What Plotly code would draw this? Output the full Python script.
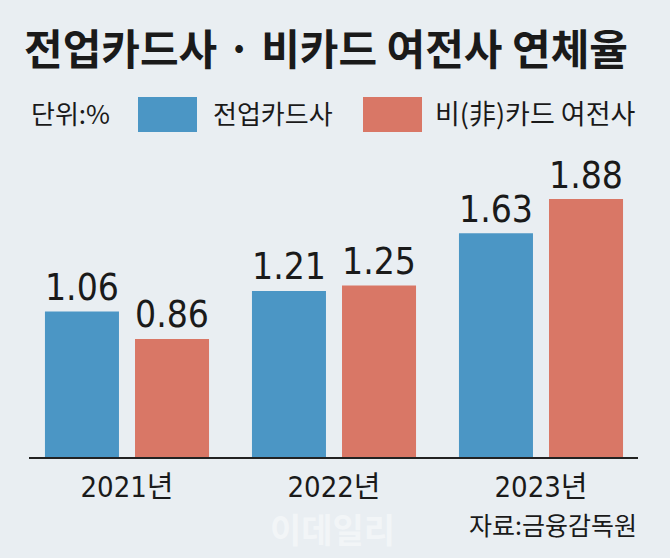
import plotly.graph_objects as go

years = ["2021년", "2022년", "2023년"]
card_only = [1.06, 1.21, 1.63]
non_card = [0.86, 1.25, 1.88]
series_names = ["전업카드사", "비(非)카드 여전사"]
title_text = "전업카드사 · 비카드 여전사 연체율"
unit_text = "단위:%"
source_text = "자료:금융감독원"
watermark = "이데일리"

BLUE = "#4b96c5"
RED = "#d97766"
BG = "#e9eef2"
KR = "Noto Sans CJK KR"
NUM = "Liberation Sans Narrow, DejaVu Sans Condensed, Roboto, " + KR

W, H = 670, 558
L, R, T, B = 29, 32, 170, 101
PW, PH = W - L - R, H - T - B


def xp(px):
    return (px - L) / PW


def yp(py):
    return (H - B - py) / PH


fig = go.Figure()
for vals, name, col in [(card_only, series_names[0], BLUE), (non_card, series_names[1], RED)]:
    fig.add_trace(go.Bar(
        x=years, y=vals, name=name, marker=dict(color=col, line=dict(width=0)),
        text=[f"{v:.2f}" for v in vals], textposition="outside",
        textfont=dict(family=NUM, size=39, color="#1a1a1a"),
        cliponaxis=False, showlegend=False,
    ))

ann = []
ann.append(dict(text=f"<b>{title_text}</b>", x=xp(22), y=yp(14), xref="paper", yref="paper",
                xanchor="left", yanchor="top", showarrow=False,
                font=dict(family=KR, size=42, color="#1a1a1a")))
ann.append(dict(text=unit_text, x=xp(29), y=yp(112), xref="paper", yref="paper",
                xanchor="left", yanchor="middle", showarrow=False,
                font=dict(family=KR, size=26, color="#1a1a1a")))
ann.append(dict(text=series_names[0], x=xp(211), y=yp(112), xref="paper", yref="paper",
                xanchor="left", yanchor="middle", showarrow=False,
                font=dict(family=KR, size=26, color="#1a1a1a")))
ann.append(dict(text=series_names[1], x=xp(433), y=yp(112), xref="paper", yref="paper",
                xanchor="left", yanchor="middle", showarrow=False,
                font=dict(family=KR, size=27, color="#1a1a1a")))
ann.append(dict(text=f"<b>{watermark}</b>", x=xp(332), y=yp(528), xref="paper", yref="paper",
                xanchor="center", yanchor="middle", showarrow=False,
                font=dict(family=KR, size=34, color="rgba(255,255,255,0.45)")))
ann.append(dict(text=source_text, x=xp(639), y=yp(524), xref="paper", yref="paper",
                xanchor="right", yanchor="middle", showarrow=False,
                font=dict(family=KR, size=25, color="#1a1a1a")))

shapes = [
    dict(type="rect", xref="paper", yref="paper", x0=xp(138), x1=xp(197), y0=yp(97), y1=yp(132),
         fillcolor=BLUE, line=dict(width=0)),
    dict(type="rect", xref="paper", yref="paper", x0=xp(363), x1=xp(422), y0=yp(97), y1=yp(132),
         fillcolor=RED, line=dict(width=0)),
]

fig.update_layout(
    width=W, height=H,
    margin=dict(l=L, r=R, t=T, b=B, pad=0),
    paper_bgcolor=BG, plot_bgcolor=BG,
    barmode="group", bargap=0.13, bargroupgap=0.178,
    annotations=ann, shapes=shapes,
    font=dict(family=KR, color="#1a1a1a"),
)
fig.update_xaxes(range=[-0.4734, 2.4686], showline=True, linecolor="#222", linewidth=1.5,
                 showgrid=False, zeroline=False, ticks="", ticklabelstandoff=3,
                 tickfont=dict(family=NUM, size=29, color="#1a1a1a"), fixedrange=True)
fig.update_yaxes(range=[0, PH / 137.2], visible=False, showgrid=False, zeroline=False,
                 fixedrange=True)

fig.write_html("out.html", config={"displayModeBar": False},
               post_script="document.body.style.margin='0';document.body.style.background='%s';" % BG)
